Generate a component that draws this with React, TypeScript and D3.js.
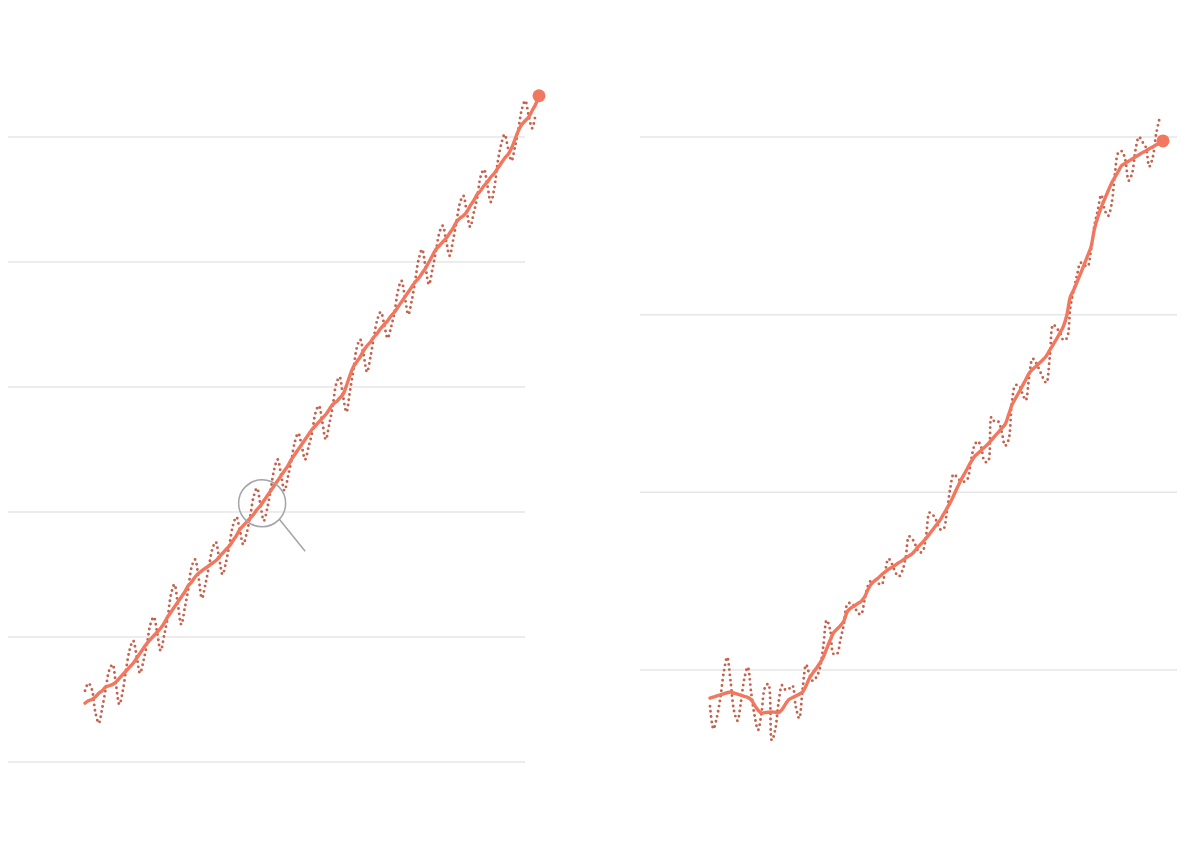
import React, { useEffect, useRef } from 'react';
import * as d3 from 'd3';

// month index counted from Jan 2000, one sample every two months
const sampleMonths: number[] = d3.range(0, 263, 2);
const trendMonths: number[] = d3.range(0, 265, 2);

const leftGrid: number[] = [360, 370, 380, 390, 400, 410];
const rightGrid: number[] = [1750, 1800, 1850, 1900];

// left panel: raw values (dotted) and smoothed trend
const leftRaw: number[] = [
    365.7, 366.3, 365.8, 364.0, 363.1, 364.3,
    365.8, 367.3, 367.8, 366.2, 364.6, 365.7,
    367.5, 369.0, 369.7, 368.5, 367.1, 368.1,
    369.4, 371.0, 371.6, 370.3, 368.9, 370.1,
    371.5, 373.4, 374.2, 372.6, 371.0, 372.3,
    373.8, 375.6, 376.2, 374.8, 373.1, 374.2,
    375.6, 377.0, 377.6, 376.3, 375.0, 376.0,
    377.4, 378.9, 379.6, 378.6, 377.4, 378.3,
    379.6, 381.2, 381.9, 380.6, 379.3, 380.3,
    381.8, 383.4, 384.2, 383.0, 381.7, 382.8,
    384.1, 385.6, 386.3, 385.3, 384.2, 385.2,
    386.3, 387.9, 388.5, 387.2, 385.8, 387.0,
    388.4, 390.2, 390.8, 389.3, 388.0, 389.6,
    391.3, 393.1, 393.8, 392.6, 391.2, 392.4,
    394.0, 395.4, 396.0, 395.0, 393.9, 394.8,
    396.0, 397.7, 398.5, 397.2, 395.8, 396.9,
    398.5, 400.2, 401.0, 399.6, 398.2, 399.4,
    400.8, 402.3, 402.9, 401.7, 400.5, 401.7,
    403.2, 404.7, 405.3, 404.0, 402.8, 403.9,
    405.1, 406.8, 407.4, 406.1, 404.8, 405.9,
    408.0, 409.4, 410.2, 409.1, 408.1, 409.2,
    410.6, 412.2, 412.9, 411.7, 410.7, 411.8,
];
const leftTrend: number[] = [
    364.7, 364.9, 365.0, 365.2, 365.5, 365.7,
    366.0, 366.1, 366.2, 366.4, 366.7, 367.0,
    367.3, 367.6, 367.9, 368.3, 368.7, 369.1,
    369.5, 369.8, 370.1, 370.4, 370.7, 371.1,
    371.6, 372.0, 372.4, 372.8, 373.2, 373.6,
    374.1, 374.4, 374.8, 375.1, 375.3, 375.5,
    375.7, 375.9, 376.1, 376.4, 376.7, 377.0,
    377.3, 377.7, 378.1, 378.6, 378.9, 379.2,
    379.5, 379.8, 380.2, 380.5, 380.9, 381.3,
    381.7, 382.1, 382.5, 382.9, 383.3, 383.7,
    384.2, 384.6, 385.0, 385.4, 385.8, 386.2,
    386.6, 386.9, 387.2, 387.5, 387.8, 388.2,
    388.6, 388.8, 389.1, 389.4, 390.1, 390.9,
    391.6, 392.0, 392.4, 392.9, 393.3, 393.6,
    394.0, 394.3, 394.7, 395.0, 395.3, 395.7,
    396.0, 396.4, 396.8, 397.2, 397.6, 398.0,
    398.4, 398.7, 399.1, 399.5, 400.0, 400.5,
    401.0, 401.3, 401.6, 401.9, 402.3, 402.7,
    403.2, 403.5, 403.7, 404.0, 404.5, 404.9,
    405.4, 405.7, 406.1, 406.4, 406.8, 407.1,
    407.5, 407.9, 408.3, 408.6, 409.1, 409.8,
    410.5, 411.0, 411.3, 411.6, 412.1, 412.6,
    413.3,
];

// right panel: raw values (dotted) and smoothed trend
const rightRaw: number[] = [
    1739.8, 1733.4, 1736.7, 1742.0, 1749.3, 1753.6,
    1746.8, 1738.5, 1735.7, 1740.9, 1747.6, 1750.8,
    1743.6, 1737.1, 1733.1, 1737.9, 1745.0, 1746.1,
    1730.2, 1733.1, 1741.0, 1745.7, 1744.4, 1744.7,
    1745.6, 1739.7, 1736.4, 1744.8, 1751.5, 1748.7,
    1746.9, 1748.0, 1750.4, 1756.6, 1764.0, 1761.4,
    1754.5, 1754.5, 1758.5, 1762.8, 1768.4, 1768.9,
    1768.0, 1766.2, 1765.6, 1769.5, 1773.6, 1775.2,
    1775.1, 1774.4, 1774.0, 1777.6, 1781.3, 1779.9,
    1777.5, 1776.3, 1777.8, 1781.5, 1787.6, 1786.8,
    1784.9, 1783.0, 1783.5, 1788.1, 1794.3, 1793.6,
    1791.9, 1789.6, 1789.6, 1794.4, 1801.1, 1805.1,
    1804.2, 1803.2, 1803.0, 1803.7, 1808.5, 1813.0,
    1814.4, 1812.8, 1808.7, 1808.6, 1821.2, 1819.8,
    1819.9, 1817.0, 1813.1, 1814.8, 1825.6, 1830.1,
    1830.1, 1827.9, 1825.9, 1832.5, 1837.6, 1836.5,
    1834.4, 1832.3, 1830.8, 1838.0, 1847.2, 1846.2,
    1844.9, 1842.8, 1843.4, 1852.0, 1857.0, 1861.3,
    1864.6, 1864.0, 1863.5, 1868.0, 1875.0, 1879.4,
    1883.7, 1879.5, 1877.8, 1881.0, 1889.7, 1895.6,
    1896.0, 1893.6, 1887.7, 1889.8, 1896.4, 1900.0,
    1898.6, 1897.1, 1891.7, 1894.2, 1900.8, 1905.3,
];
const rightTrend: number[] = [
    1742.1, 1742.4, 1742.7, 1743.0, 1743.3, 1743.6,
    1743.8, 1743.5, 1743.2, 1742.9, 1742.6, 1742.3,
    1741.6, 1740.1, 1738.7, 1737.9, 1738.0, 1738.1,
    1738.2, 1738.1, 1738.0, 1738.9, 1740.4, 1741.7,
    1742.2, 1742.7, 1743.2, 1743.8, 1745.6, 1747.7,
    1749.2, 1750.5, 1751.9, 1753.6, 1756.0, 1758.4,
    1760.5, 1761.5, 1762.5, 1763.8, 1766.4, 1767.4,
    1768.0, 1768.7, 1769.3, 1770.5, 1772.6, 1774.2,
    1775.1, 1775.9, 1776.8, 1777.6, 1778.3, 1778.9,
    1779.5, 1780.2, 1780.8, 1781.5, 1782.1, 1782.8,
    1783.9, 1785.0, 1786.0, 1787.1, 1788.3, 1789.6,
    1790.9, 1792.1, 1793.8, 1795.4, 1797.1, 1799.1,
    1801.2, 1803.2, 1805.0, 1806.7, 1808.5, 1810.0,
    1810.9, 1811.8, 1812.7, 1813.6, 1814.7, 1815.8,
    1816.9, 1818.0, 1819.1, 1821.8, 1824.6, 1826.4,
    1828.1, 1829.9, 1831.7, 1833.5, 1834.6, 1835.5,
    1836.4, 1837.3, 1838.4, 1840.0, 1841.6, 1843.2,
    1844.9, 1846.8, 1849.9, 1855.0, 1857.0, 1859.3,
    1861.6, 1864.0, 1866.5, 1869.0, 1874.0, 1877.4,
    1880.2, 1882.5, 1884.8, 1887.0, 1888.7, 1890.4,
    1892.0, 1892.6, 1893.2, 1893.8, 1894.4, 1895.0,
    1895.6, 1896.1, 1896.7, 1897.2, 1897.8, 1898.3,
    1898.9,
];

// magnifier annotation on the left panel
const lensMonth = 103;
const lensValue = 380.7;

const trendColor = '#f2775f';
const rawColor = '#c5614c';
const gridColor = '#e6e6e6';

interface PanelConfig {
    raw: number[];
    trend: number[];
    grid: number[];
    xRange: [number, number];
    gridX: [number, number];
    yDomain: [number, number];
    yRange: [number, number];
}

const panels: PanelConfig[] = [
    {
        raw: leftRaw,
        trend: leftTrend,
        grid: leftGrid,
        xRange: [85, 539],
        gridX: [8, 525],
        yDomain: [360, 410],
        yRange: [762, 137],
    },
    {
        raw: rightRaw,
        trend: rightTrend,
        grid: rightGrid,
        xRange: [710, 1163],
        gridX: [640, 1177],
        yDomain: [1750, 1900],
        yRange: [670, 137],
    },
];

const App: React.FC = () => {
    const svgRef = useRef<SVGSVGElement | null>(null);

    useEffect(() => {
        const node = svgRef.current;
        if (!node) return;
        const svg = d3.select(node);
        svg.selectAll('*').remove();

        panels.forEach((p, idx) => {
            const x = d3.scaleLinear().domain([0, 264]).range(p.xRange);
            const y = d3.scaleLinear().domain(p.yDomain).range(p.yRange);
            const g = svg.append('g');

            g.selectAll('line.grid')
                .data(p.grid)
                .enter()
                .append('line')
                .attr('class', 'grid')
                .attr('x1', p.gridX[0])
                .attr('x2', p.gridX[1])
                .attr('y1', (d) => y(d))
                .attr('y2', (d) => y(d))
                .attr('stroke', gridColor)
                .attr('stroke-width', 1.5);

            const line = d3
                .line<[number, number]>()
                .x((d) => x(d[0]))
                .y((d) => y(d[1]))
                .curve(d3.curveCatmullRom.alpha(0.5));

            g.append('path')
                .datum(d3.zip(sampleMonths, p.raw) as [number, number][])
                .attr('d', line)
                .attr('fill', 'none')
                .attr('stroke', rawColor)
                .attr('stroke-width', 2.9)
                .attr('stroke-linecap', 'round')
                .attr('stroke-dasharray', '0 5.2');

            const trendPts = d3.zip(trendMonths, p.trend) as [number, number][];
            g.append('path')
                .datum(trendPts)
                .attr('d', line)
                .attr('fill', 'none')
                .attr('stroke', trendColor)
                .attr('stroke-width', 3.4)
                .attr('stroke-linejoin', 'round')
                .attr('stroke-linecap', 'round');

            const last = trendPts[trendPts.length - 1];
            g.append('circle')
                .attr('cx', x(last[0]))
                .attr('cy', y(last[1]))
                .attr('r', 6.5)
                .attr('fill', trendColor);

            if (idx === 0) {
                const cx = x(lensMonth);
                const cy = y(lensValue);
                const r = 23.5;
                g.append('circle')
                    .attr('cx', cx)
                    .attr('cy', cy)
                    .attr('r', r)
                    .attr('fill', 'none')
                    .attr('stroke', '#a3a3aa')
                    .attr('stroke-width', 1.5);
                g.append('line')
                    .attr('x1', cx + r * Math.cos(Math.PI / 4.2))
                    .attr('y1', cy + r * Math.sin(Math.PI / 4.2))
                    .attr('x2', cx + 43)
                    .attr('y2', cy + 48)
                    .attr('stroke', '#a3a3aa')
                    .attr('stroke-width', 1.5);
            }
        });
    }, []);

    return (
        <div style={{ position: 'absolute', left: 0, top: 0 }}>
            <svg ref={svgRef} width={1200} height={846} style={{ display: 'block', background: '#fff' }} />
        </div>
    );
};

export default App;
